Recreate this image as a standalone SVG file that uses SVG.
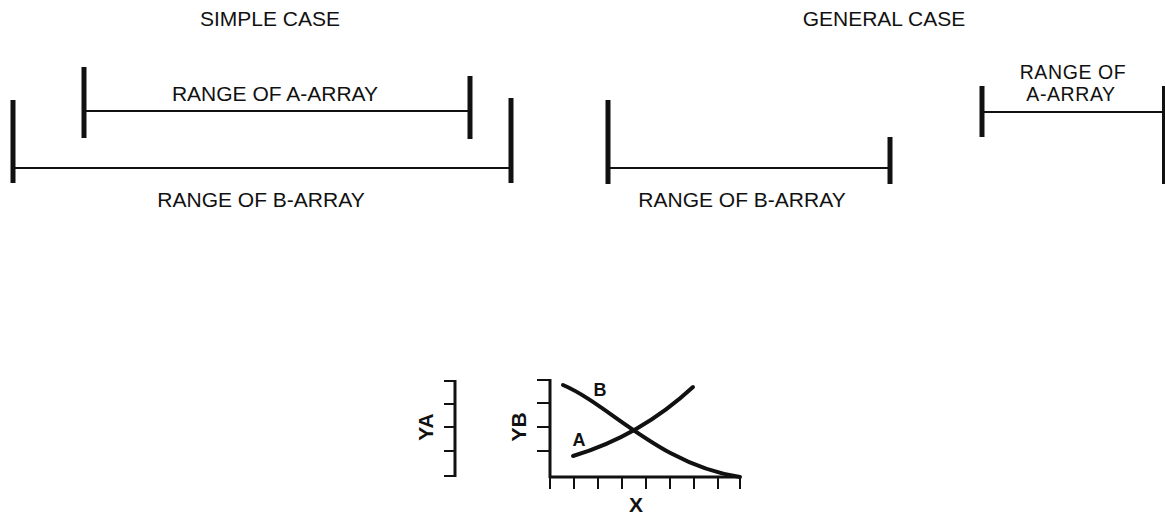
<svg xmlns="http://www.w3.org/2000/svg" width="1165" height="514" viewBox="0 0 1165 514">
<style>
text{font-family:"Liberation Sans",Arial,sans-serif;fill:#111}
.t{font-size:21px;text-anchor:middle}
.t2{font-size:19.5px;text-anchor:middle;letter-spacing:0.6px}
.c{font-size:21px;font-weight:bold;text-anchor:middle}
.cl{font-size:18px;font-weight:bold;text-anchor:middle}
.tick{stroke:#111;stroke-width:5;stroke-linecap:butt;fill:none}
.ln{stroke:#111;stroke-width:2;fill:none}
.ax{stroke:#111;stroke-width:3;fill:none}
.tk{stroke:#111;stroke-width:2;fill:none}
.cv{stroke:#111;stroke-width:4;fill:none;stroke-linecap:round}
</style>
<rect width="1165" height="514" fill="#fff"/>
<g id="titles">
<text class="t" x="270" y="26">SIMPLE CASE</text>
<text class="t" x="884" y="26">GENERAL CASE</text>
</g>
<g id="simple-a">
<line class="ln" x1="84" y1="111" x2="470" y2="111"/>
<line class="tick" x1="84" y1="67" x2="84" y2="138"/>
<line class="tick" x1="470" y1="76" x2="470" y2="139"/>
<text class="t" x="275" y="101">RANGE OF A-ARRAY</text>
</g>
<g id="simple-b">
<line class="ln" x1="13" y1="168" x2="511" y2="168"/>
<line class="tick" x1="13" y1="100" x2="13" y2="183"/>
<line class="tick" x1="511" y1="98" x2="511" y2="183"/>
<text class="t" x="261" y="207">RANGE OF B-ARRAY</text>
</g>
<g id="general-b">
<line class="ln" x1="608" y1="168" x2="890" y2="168"/>
<line class="tick" x1="608" y1="100" x2="608" y2="184"/>
<line class="tick" x1="890" y1="137" x2="890" y2="184"/>
<text class="t" x="742" y="207">RANGE OF B-ARRAY</text>
</g>
<g id="general-a">
<line class="ln" x1="982" y1="112" x2="1164" y2="112"/>
<line class="tick" x1="982" y1="86" x2="982" y2="137"/>
<line class="tick" x1="1163.5" y1="86" x2="1163.5" y2="184" style="stroke-width:3"/>
<text class="t2" x="1073" y="79">RANGE OF</text>
<text class="t2" x="1071" y="100.5">A-ARRAY</text>
</g>
<g id="ya-axis">
<line class="ax" x1="455" y1="380" x2="455" y2="477"/>
<path class="tk" d="M444,381H455M444,404H455M444,427H455M444,451H455M444,476H455"/>
<text class="c" transform="translate(433,427) rotate(-90)">YA</text>
</g>
<g id="yb-chart">
<line class="ax" x1="550" y1="379" x2="550" y2="478"/>
<line class="ax" x1="549" y1="477" x2="741" y2="477"/>
<path class="tk" d="M537,380H550M537,403H550M537,427H550M537,451H550"/>
<path class="tk" d="M550,477V489M574,477V489M598,477V489M622,477V489M646,477V489M670,477V489M694,477V489M718,477V489M740,477V489"/>
<text class="c" transform="translate(526,427) rotate(-90)">YB</text>
<text class="c" x="636" y="512">X</text>
<text class="cl" x="600" y="396">B</text>
<text class="cl" x="579" y="446">A</text>
</g>
<g id="curves">
<path class="cv" d="M563,385 C610,405 660,465 740,477"/>
<path class="cv" d="M573,456 Q640,436 693,387"/>
</g>
</svg>
